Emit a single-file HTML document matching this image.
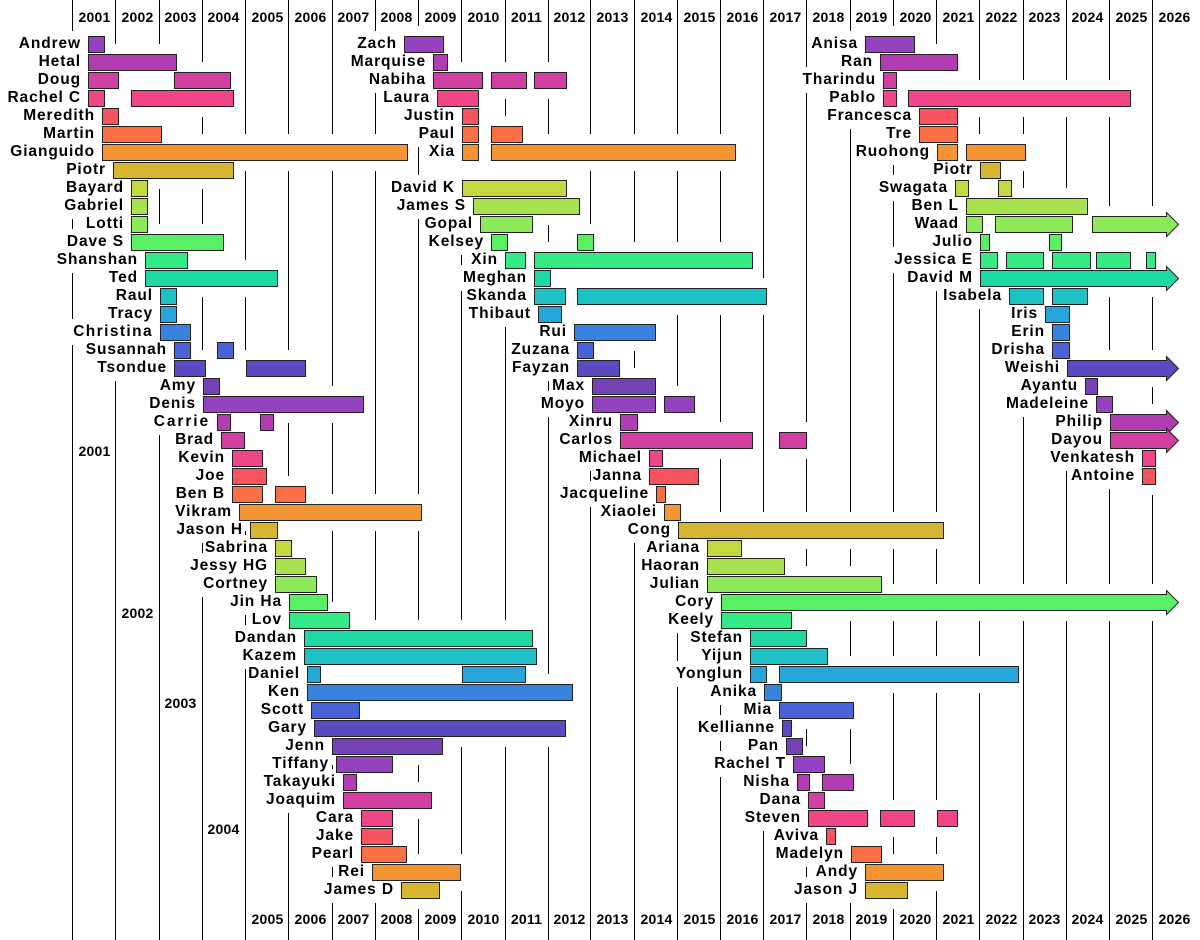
<!DOCTYPE html>
<html><head><meta charset="utf-8">
<style>
body{margin:0;background:#fff}
#c{position:relative;width:1200px;height:940px;overflow:hidden;background:#fff;font-family:"Liberation Sans",Arial,sans-serif;font-weight:bold;color:#000}
.ly{position:absolute;left:0;top:0;width:1200px;height:940px}
#L{z-index:1}#W{z-index:2}#C{z-index:3}
.l{position:absolute;top:0;width:1px;height:940px;background:#000}
.t,.tw{position:absolute;top:calc(var(--r)*18px + 31px);height:26px;line-height:26px;font-size:15.5px;letter-spacing:.9px;white-space:nowrap}
.t{right:calc(1207px - var(--x)*1px)}
.tw{right:calc(1205px - var(--x)*1px);padding:0 2px;color:transparent;background:#fff}
.b{position:absolute;top:calc(var(--r)*18px + 36px);height:17px;box-sizing:border-box;border:1px solid #222}
.bw{position:absolute;top:calc(var(--r)*18px + 26px);height:37px;margin-left:-2px;padding:0 2px;background:#fff}
.y{position:absolute;width:43px;text-align:center;font-size:14px;letter-spacing:.2px;height:26px;line-height:26px}
.k0{background:#9342c0}.k1{background:#b23db3}.k2{background:#d23fa2}.k3{background:#f04586}.k4{background:#f8545f}
.k5{background:#f87044}.k6{background:#f59433}.k7{background:#d8b530}.k8{background:#c4d940}.k9{background:#a8e34f}
.k10{background:#8dea58}.k11{background:#5af064}.k12{background:#34ea84}.k13{background:#1fd9a5}.k14{background:#1ec2c6}
.k15{background:#27a6dc}.k16{background:#3a82e0}.k17{background:#4a63d6}.k18{background:#5b4bc2}.k19{background:#7442b4}
</style></head><body><div id="c">

<div class="ly" id="L">
<div class="l" style="left:72px"></div><div class="l" style="left:115px"></div><div class="l" style="left:159px"></div><div class="l" style="left:202px"></div><div class="l" style="left:245px"></div><div class="l" style="left:288px"></div><div class="l" style="left:332px"></div><div class="l" style="left:375px"></div><div class="l" style="left:418px"></div><div class="l" style="left:461px"></div><div class="l" style="left:505px"></div><div class="l" style="left:548px"></div><div class="l" style="left:590px"></div><div class="l" style="left:634px"></div><div class="l" style="left:677px"></div><div class="l" style="left:720px"></div><div class="l" style="left:763px"></div><div class="l" style="left:806px"></div><div class="l" style="left:850px"></div><div class="l" style="left:893px"></div><div class="l" style="left:936px"></div><div class="l" style="left:979px"></div><div class="l" style="left:1023px"></div><div class="l" style="left:1066px"></div><div class="l" style="left:1109px"></div><div class="l" style="left:1152px"></div>
</div>

<div class="ly" id="W">
<div class="tw" style="--r:0;--x:88">Andrew</div><div class="tw" style="--r:1;--x:88">Hetal</div><div class="tw" style="--r:2;--x:88">Doug</div><div class="tw" style="--r:3;--x:88">Rachel C</div><div class="tw" style="--r:4;--x:102">Meredith</div><div class="tw" style="--r:5;--x:102">Martin</div><div class="tw" style="--r:6;--x:102">Gianguido</div><div class="tw" style="--r:7;--x:113">Piotr</div><div class="tw" style="--r:8;--x:131">Bayard</div><div class="tw" style="--r:9;--x:131">Gabriel</div><div class="tw" style="--r:10;--x:131">Lotti</div><div class="tw" style="--r:11;--x:131">Dave S</div><div class="tw" style="--r:12;--x:145">Shanshan</div><div class="tw" style="--r:13;--x:145">Ted</div><div class="tw" style="--r:14;--x:160">Raul</div><div class="tw" style="--r:15;--x:160">Tracy</div><div class="tw" style="--r:16;--x:160;letter-spacing:1.4px">Christina</div><div class="tw" style="--r:17;--x:174">Susannah</div><div class="tw" style="--r:18;--x:174">Tsondue</div><div class="tw" style="--r:19;--x:203">Amy</div><div class="tw" style="--r:20;--x:203">Denis</div><div class="tw" style="--r:21;--x:217;letter-spacing:1.9px">Carrie</div><div class="tw" style="--r:22;--x:221">Brad</div><div class="tw" style="--r:23;--x:232">Kevin</div><div class="tw" style="--r:24;--x:232">Joe</div><div class="tw" style="--r:25;--x:232">Ben B</div><div class="tw" style="--r:26;--x:239">Vikram</div><div class="tw" style="--r:27;--x:250">Jason H</div><div class="tw" style="--r:28;--x:275">Sabrina</div><div class="tw" style="--r:29;--x:275">Jessy HG</div><div class="tw" style="--r:30;--x:275">Cortney</div><div class="tw" style="--r:31;--x:289">Jin Ha</div><div class="tw" style="--r:32;--x:289">Lov</div><div class="tw" style="--r:33;--x:304">Dandan</div><div class="tw" style="--r:34;--x:304">Kazem</div><div class="tw" style="--r:35;--x:307">Daniel</div><div class="tw" style="--r:36;--x:307">Ken</div><div class="tw" style="--r:37;--x:311">Scott</div><div class="tw" style="--r:38;--x:314">Gary</div><div class="tw" style="--r:39;--x:332">Jenn</div><div class="tw" style="--r:40;--x:336">Tiffany</div><div class="tw" style="--r:41;--x:343">Takayuki</div><div class="tw" style="--r:42;--x:343">Joaquim</div><div class="tw" style="--r:43;--x:361">Cara</div><div class="tw" style="--r:44;--x:361">Jake</div><div class="tw" style="--r:45;--x:361">Pearl</div><div class="tw" style="--r:46;--x:372">Rei</div><div class="tw" style="--r:47;--x:401">James D</div>
<div class="tw" style="--r:0;--x:404">Zach</div><div class="tw" style="--r:1;--x:433">Marquise</div><div class="tw" style="--r:2;--x:433">Nabiha</div><div class="tw" style="--r:3;--x:437">Laura</div><div class="tw" style="--r:4;--x:462">Justin</div><div class="tw" style="--r:5;--x:462">Paul</div><div class="tw" style="--r:6;--x:462">Xia</div><div class="tw" style="--r:8;--x:462">David K</div><div class="tw" style="--r:9;--x:473">James S</div><div class="tw" style="--r:10;--x:480">Gopal</div><div class="tw" style="--r:11;--x:491">Kelsey</div><div class="tw" style="--r:12;--x:505">Xin</div><div class="tw" style="--r:13;--x:534">Meghan</div><div class="tw" style="--r:14;--x:534">Skanda</div><div class="tw" style="--r:15;--x:538">Thibaut</div><div class="tw" style="--r:16;--x:574">Rui</div><div class="tw" style="--r:17;--x:577">Zuzana</div><div class="tw" style="--r:18;--x:577">Fayzan</div><div class="tw" style="--r:19;--x:592">Max</div><div class="tw" style="--r:20;--x:592">Moyo</div><div class="tw" style="--r:21;--x:620">Xinru</div><div class="tw" style="--r:22;--x:620">Carlos</div><div class="tw" style="--r:23;--x:649">Michael</div><div class="tw" style="--r:24;--x:649">Janna</div><div class="tw" style="--r:25;--x:656">Jacqueline</div><div class="tw" style="--r:26;--x:664">Xiaolei</div><div class="tw" style="--r:27;--x:678">Cong</div><div class="tw" style="--r:28;--x:707">Ariana</div><div class="tw" style="--r:29;--x:707">Haoran</div><div class="tw" style="--r:30;--x:707">Julian</div><div class="tw" style="--r:31;--x:721">Cory</div><div class="tw" style="--r:32;--x:721">Keely</div><div class="tw" style="--r:33;--x:750">Stefan</div><div class="tw" style="--r:34;--x:750">Yijun</div><div class="tw" style="--r:35;--x:750">Yonglun</div><div class="tw" style="--r:36;--x:764">Anika</div><div class="tw" style="--r:37;--x:779">Mia</div><div class="tw" style="--r:38;--x:782">Kellianne</div><div class="tw" style="--r:39;--x:786">Pan</div><div class="tw" style="--r:40;--x:793">Rachel T</div><div class="tw" style="--r:41;--x:797">Nisha</div><div class="tw" style="--r:42;--x:808">Dana</div><div class="tw" style="--r:43;--x:808">Steven</div><div class="tw" style="--r:44;--x:826">Aviva</div><div class="tw" style="--r:45;--x:851">Madelyn</div><div class="tw" style="--r:46;--x:865">Andy</div><div class="tw" style="--r:47;--x:865">Jason J</div>
<div class="tw" style="--r:0;--x:865">Anisa</div><div class="tw" style="--r:1;--x:880">Ran</div><div class="tw" style="--r:2;--x:883">Tharindu</div><div class="tw" style="--r:3;--x:883">Pablo</div><div class="tw" style="--r:4;--x:919">Francesca</div><div class="tw" style="--r:5;--x:919">Tre</div><div class="tw" style="--r:6;--x:937">Ruohong</div><div class="tw" style="--r:7;--x:980">Piotr</div><div class="tw" style="--r:8;--x:955">Swagata</div><div class="tw" style="--r:9;--x:966">Ben L</div><div class="tw" style="--r:10;--x:966">Waad</div><div class="tw" style="--r:11;--x:980">Julio</div><div class="tw" style="--r:12;--x:980">Jessica E</div><div class="tw" style="--r:13;--x:980">David M</div><div class="tw" style="--r:14;--x:1009">Isabela</div><div class="tw" style="--r:15;--x:1045">Iris</div><div class="tw" style="--r:16;--x:1052">Erin</div><div class="tw" style="--r:17;--x:1052">Drisha</div><div class="tw" style="--r:18;--x:1067">Weishi</div><div class="tw" style="--r:19;--x:1085">Ayantu</div><div class="tw" style="--r:20;--x:1096">Madeleine</div><div class="tw" style="--r:21;--x:1110">Philip</div><div class="tw" style="--r:22;--x:1110">Dayou</div><div class="tw" style="--r:23;--x:1142">Venkatesh</div><div class="tw" style="--r:24;--x:1142">Antoine</div>

<div class="bw" style="--r:0;left:88px;width:17px"></div><div class="bw" style="--r:1;left:88px;width:89px"></div><div class="bw" style="--r:2;left:88px;width:31px"></div><div class="bw" style="--r:2;left:174px;width:57px"></div><div class="bw" style="--r:3;left:88px;width:17px"></div><div class="bw" style="--r:3;left:131px;width:103px"></div><div class="bw" style="--r:4;left:102px;width:17px"></div><div class="bw" style="--r:5;left:102px;width:60px"></div><div class="bw" style="--r:6;left:102px;width:306px"></div><div class="bw" style="--r:7;left:113px;width:121px"></div><div class="bw" style="--r:8;left:131px;width:17px"></div><div class="bw" style="--r:9;left:131px;width:17px"></div><div class="bw" style="--r:10;left:131px;width:17px"></div><div class="bw" style="--r:11;left:131px;width:93px"></div><div class="bw" style="--r:12;left:145px;width:43px"></div><div class="bw" style="--r:13;left:145px;width:133px"></div><div class="bw" style="--r:14;left:160px;width:17px"></div><div class="bw" style="--r:15;left:160px;width:17px"></div><div class="bw" style="--r:16;left:160px;width:31px"></div><div class="bw" style="--r:17;left:174px;width:17px"></div><div class="bw" style="--r:17;left:217px;width:17px"></div><div class="bw" style="--r:18;left:174px;width:32px"></div><div class="bw" style="--r:18;left:246px;width:60px"></div><div class="bw" style="--r:19;left:203px;width:17px"></div><div class="bw" style="--r:20;left:203px;width:161px"></div><div class="bw" style="--r:21;left:217px;width:14px"></div><div class="bw" style="--r:21;left:260px;width:14px"></div><div class="bw" style="--r:22;left:221px;width:24px"></div><div class="bw" style="--r:23;left:232px;width:31px"></div><div class="bw" style="--r:24;left:232px;width:35px"></div><div class="bw" style="--r:25;left:232px;width:31px"></div><div class="bw" style="--r:25;left:275px;width:31px"></div><div class="bw" style="--r:26;left:239px;width:183px"></div><div class="bw" style="--r:27;left:250px;width:28px"></div><div class="bw" style="--r:28;left:275px;width:17px"></div><div class="bw" style="--r:29;left:275px;width:31px"></div><div class="bw" style="--r:30;left:275px;width:42px"></div><div class="bw" style="--r:31;left:289px;width:39px"></div><div class="bw" style="--r:32;left:289px;width:61px"></div><div class="bw" style="--r:33;left:304px;width:229px"></div><div class="bw" style="--r:34;left:304px;width:233px"></div><div class="bw" style="--r:35;left:307px;width:14px"></div><div class="bw" style="--r:35;left:462px;width:64px"></div><div class="bw" style="--r:36;left:307px;width:266px"></div><div class="bw" style="--r:37;left:311px;width:49px"></div><div class="bw" style="--r:38;left:314px;width:252px"></div><div class="bw" style="--r:39;left:332px;width:111px"></div><div class="bw" style="--r:40;left:336px;width:57px"></div><div class="bw" style="--r:41;left:343px;width:14px"></div><div class="bw" style="--r:42;left:343px;width:89px"></div><div class="bw" style="--r:43;left:361px;width:32px"></div><div class="bw" style="--r:44;left:361px;width:32px"></div><div class="bw" style="--r:45;left:361px;width:46px"></div><div class="bw" style="--r:46;left:372px;width:89px"></div><div class="bw" style="--r:47;left:401px;width:39px"></div>
<div class="bw" style="--r:0;left:404px;width:40px"></div><div class="bw" style="--r:1;left:433px;width:15px"></div><div class="bw" style="--r:2;left:433px;width:50px"></div><div class="bw" style="--r:2;left:491px;width:36px"></div><div class="bw" style="--r:2;left:534px;width:33px"></div><div class="bw" style="--r:3;left:437px;width:42px"></div><div class="bw" style="--r:4;left:462px;width:17px"></div><div class="bw" style="--r:5;left:462px;width:17px"></div><div class="bw" style="--r:5;left:491px;width:32px"></div><div class="bw" style="--r:6;left:462px;width:17px"></div><div class="bw" style="--r:6;left:491px;width:245px"></div><div class="bw" style="--r:8;left:462px;width:105px"></div><div class="bw" style="--r:9;left:473px;width:107px"></div><div class="bw" style="--r:10;left:480px;width:53px"></div><div class="bw" style="--r:11;left:491px;width:17px"></div><div class="bw" style="--r:11;left:577px;width:17px"></div><div class="bw" style="--r:12;left:505px;width:21px"></div><div class="bw" style="--r:12;left:534px;width:219px"></div><div class="bw" style="--r:13;left:534px;width:17px"></div><div class="bw" style="--r:14;left:534px;width:32px"></div><div class="bw" style="--r:14;left:577px;width:190px"></div><div class="bw" style="--r:15;left:538px;width:24px"></div><div class="bw" style="--r:16;left:574px;width:82px"></div><div class="bw" style="--r:17;left:577px;width:17px"></div><div class="bw" style="--r:18;left:577px;width:43px"></div><div class="bw" style="--r:19;left:592px;width:64px"></div><div class="bw" style="--r:20;left:592px;width:64px"></div><div class="bw" style="--r:20;left:664px;width:31px"></div><div class="bw" style="--r:21;left:620px;width:18px"></div><div class="bw" style="--r:22;left:620px;width:133px"></div><div class="bw" style="--r:22;left:779px;width:28px"></div><div class="bw" style="--r:23;left:649px;width:14px"></div><div class="bw" style="--r:24;left:649px;width:50px"></div><div class="bw" style="--r:25;left:656px;width:10px"></div><div class="bw" style="--r:26;left:664px;width:17px"></div><div class="bw" style="--r:27;left:678px;width:266px"></div><div class="bw" style="--r:28;left:707px;width:35px"></div><div class="bw" style="--r:29;left:707px;width:78px"></div><div class="bw" style="--r:30;left:707px;width:175px"></div><div class="bw" style="--r:31;left:721px;width:459px"></div><div class="bw" style="--r:32;left:721px;width:71px"></div><div class="bw" style="--r:33;left:750px;width:57px"></div><div class="bw" style="--r:34;left:750px;width:78px"></div><div class="bw" style="--r:35;left:750px;width:17px"></div><div class="bw" style="--r:35;left:779px;width:240px"></div><div class="bw" style="--r:36;left:764px;width:18px"></div><div class="bw" style="--r:37;left:779px;width:75px"></div><div class="bw" style="--r:38;left:782px;width:10px"></div><div class="bw" style="--r:39;left:786px;width:17px"></div><div class="bw" style="--r:40;left:793px;width:32px"></div><div class="bw" style="--r:41;left:797px;width:13px"></div><div class="bw" style="--r:41;left:822px;width:32px"></div><div class="bw" style="--r:42;left:808px;width:17px"></div><div class="bw" style="--r:43;left:808px;width:60px"></div><div class="bw" style="--r:43;left:880px;width:35px"></div><div class="bw" style="--r:43;left:937px;width:21px"></div><div class="bw" style="--r:44;left:826px;width:10px"></div><div class="bw" style="--r:45;left:851px;width:31px"></div><div class="bw" style="--r:46;left:865px;width:79px"></div><div class="bw" style="--r:47;left:865px;width:43px"></div>
<div class="bw" style="--r:0;left:865px;width:50px"></div><div class="bw" style="--r:1;left:880px;width:78px"></div><div class="bw" style="--r:2;left:883px;width:14px"></div><div class="bw" style="--r:3;left:883px;width:14px"></div><div class="bw" style="--r:3;left:908px;width:223px"></div><div class="bw" style="--r:4;left:919px;width:39px"></div><div class="bw" style="--r:5;left:919px;width:39px"></div><div class="bw" style="--r:6;left:937px;width:21px"></div><div class="bw" style="--r:6;left:966px;width:60px"></div><div class="bw" style="--r:7;left:980px;width:21px"></div><div class="bw" style="--r:8;left:955px;width:14px"></div><div class="bw" style="--r:8;left:998px;width:14px"></div><div class="bw" style="--r:9;left:966px;width:122px"></div><div class="bw" style="--r:10;left:966px;width:17px"></div><div class="bw" style="--r:10;left:995px;width:78px"></div><div class="bw" style="--r:10;left:1092px;width:88px"></div><div class="bw" style="--r:11;left:980px;width:10px"></div><div class="bw" style="--r:11;left:1049px;width:13px"></div><div class="bw" style="--r:12;left:980px;width:18px"></div><div class="bw" style="--r:12;left:1006px;width:38px"></div><div class="bw" style="--r:12;left:1052px;width:39px"></div><div class="bw" style="--r:12;left:1096px;width:35px"></div><div class="bw" style="--r:12;left:1146px;width:10px"></div><div class="bw" style="--r:13;left:980px;width:200px"></div><div class="bw" style="--r:14;left:1009px;width:35px"></div><div class="bw" style="--r:14;left:1052px;width:36px"></div><div class="bw" style="--r:15;left:1045px;width:25px"></div><div class="bw" style="--r:16;left:1052px;width:18px"></div><div class="bw" style="--r:17;left:1052px;width:18px"></div><div class="bw" style="--r:18;left:1067px;width:113px"></div><div class="bw" style="--r:19;left:1085px;width:13px"></div><div class="bw" style="--r:20;left:1096px;width:17px"></div><div class="bw" style="--r:21;left:1110px;width:70px"></div><div class="bw" style="--r:22;left:1110px;width:70px"></div><div class="bw" style="--r:23;left:1142px;width:14px"></div><div class="bw" style="--r:24;left:1142px;width:14px"></div>
</div>

<div class="ly" id="C">
<div class="y" style="left:73px;top:4px">2001</div><div class="y" style="left:116px;top:4px">2002</div><div class="y" style="left:159px;top:4px">2003</div><div class="y" style="left:202px;top:4px">2004</div><div class="y" style="left:246px;top:4px">2005</div><div class="y" style="left:289px;top:4px">2006</div><div class="y" style="left:332px;top:4px">2007</div><div class="y" style="left:375px;top:4px">2008</div><div class="y" style="left:419px;top:4px">2009</div><div class="y" style="left:462px;top:4px">2010</div><div class="y" style="left:505px;top:4px">2011</div><div class="y" style="left:548px;top:4px">2012</div><div class="y" style="left:591px;top:4px">2013</div><div class="y" style="left:635px;top:4px">2014</div><div class="y" style="left:678px;top:4px">2015</div><div class="y" style="left:721px;top:4px">2016</div><div class="y" style="left:764px;top:4px">2017</div><div class="y" style="left:807px;top:4px">2018</div><div class="y" style="left:850px;top:4px">2019</div><div class="y" style="left:894px;top:4px">2020</div><div class="y" style="left:937px;top:4px">2021</div><div class="y" style="left:980px;top:4px">2022</div><div class="y" style="left:1023px;top:4px">2023</div><div class="y" style="left:1066px;top:4px">2024</div><div class="y" style="left:1110px;top:4px">2025</div><div class="y" style="left:1153px;top:4px">2026</div>
<div class="y" style="left:73px;top:438px">2001</div><div class="y" style="left:116px;top:600px">2002</div><div class="y" style="left:159px;top:690px">2003</div><div class="y" style="left:202px;top:816px">2004</div>
<div class="y" style="left:246px;top:906px">2005</div><div class="y" style="left:289px;top:906px">2006</div><div class="y" style="left:332px;top:906px">2007</div><div class="y" style="left:375px;top:906px">2008</div><div class="y" style="left:419px;top:906px">2009</div><div class="y" style="left:462px;top:906px">2010</div><div class="y" style="left:505px;top:906px">2011</div><div class="y" style="left:548px;top:906px">2012</div><div class="y" style="left:591px;top:906px">2013</div><div class="y" style="left:635px;top:906px">2014</div><div class="y" style="left:678px;top:906px">2015</div><div class="y" style="left:721px;top:906px">2016</div><div class="y" style="left:764px;top:906px">2017</div><div class="y" style="left:807px;top:906px">2018</div><div class="y" style="left:850px;top:906px">2019</div><div class="y" style="left:894px;top:906px">2020</div><div class="y" style="left:937px;top:906px">2021</div><div class="y" style="left:980px;top:906px">2022</div><div class="y" style="left:1023px;top:906px">2023</div><div class="y" style="left:1066px;top:906px">2024</div><div class="y" style="left:1110px;top:906px">2025</div><div class="y" style="left:1153px;top:906px">2026</div>

<div class="t" style="--r:0;--x:88">Andrew</div><div class="t" style="--r:1;--x:88">Hetal</div><div class="t" style="--r:2;--x:88">Doug</div><div class="t" style="--r:3;--x:88">Rachel C</div><div class="t" style="--r:4;--x:102">Meredith</div><div class="t" style="--r:5;--x:102">Martin</div><div class="t" style="--r:6;--x:102">Gianguido</div><div class="t" style="--r:7;--x:113">Piotr</div><div class="t" style="--r:8;--x:131">Bayard</div><div class="t" style="--r:9;--x:131">Gabriel</div><div class="t" style="--r:10;--x:131">Lotti</div><div class="t" style="--r:11;--x:131">Dave S</div><div class="t" style="--r:12;--x:145">Shanshan</div><div class="t" style="--r:13;--x:145">Ted</div><div class="t" style="--r:14;--x:160">Raul</div><div class="t" style="--r:15;--x:160">Tracy</div><div class="t" style="--r:16;--x:160;letter-spacing:1.4px">Christina</div><div class="t" style="--r:17;--x:174">Susannah</div><div class="t" style="--r:18;--x:174">Tsondue</div><div class="t" style="--r:19;--x:203">Amy</div><div class="t" style="--r:20;--x:203">Denis</div><div class="t" style="--r:21;--x:217;letter-spacing:1.9px">Carrie</div><div class="t" style="--r:22;--x:221">Brad</div><div class="t" style="--r:23;--x:232">Kevin</div><div class="t" style="--r:24;--x:232">Joe</div><div class="t" style="--r:25;--x:232">Ben B</div><div class="t" style="--r:26;--x:239">Vikram</div><div class="t" style="--r:27;--x:250">Jason H</div><div class="t" style="--r:28;--x:275">Sabrina</div><div class="t" style="--r:29;--x:275">Jessy HG</div><div class="t" style="--r:30;--x:275">Cortney</div><div class="t" style="--r:31;--x:289">Jin Ha</div><div class="t" style="--r:32;--x:289">Lov</div><div class="t" style="--r:33;--x:304">Dandan</div><div class="t" style="--r:34;--x:304">Kazem</div><div class="t" style="--r:35;--x:307">Daniel</div><div class="t" style="--r:36;--x:307">Ken</div><div class="t" style="--r:37;--x:311">Scott</div><div class="t" style="--r:38;--x:314">Gary</div><div class="t" style="--r:39;--x:332">Jenn</div><div class="t" style="--r:40;--x:336">Tiffany</div><div class="t" style="--r:41;--x:343">Takayuki</div><div class="t" style="--r:42;--x:343">Joaquim</div><div class="t" style="--r:43;--x:361">Cara</div><div class="t" style="--r:44;--x:361">Jake</div><div class="t" style="--r:45;--x:361">Pearl</div><div class="t" style="--r:46;--x:372">Rei</div><div class="t" style="--r:47;--x:401">James D</div>
<div class="t" style="--r:0;--x:404">Zach</div><div class="t" style="--r:1;--x:433">Marquise</div><div class="t" style="--r:2;--x:433">Nabiha</div><div class="t" style="--r:3;--x:437">Laura</div><div class="t" style="--r:4;--x:462">Justin</div><div class="t" style="--r:5;--x:462">Paul</div><div class="t" style="--r:6;--x:462">Xia</div><div class="t" style="--r:8;--x:462">David K</div><div class="t" style="--r:9;--x:473">James S</div><div class="t" style="--r:10;--x:480">Gopal</div><div class="t" style="--r:11;--x:491">Kelsey</div><div class="t" style="--r:12;--x:505">Xin</div><div class="t" style="--r:13;--x:534">Meghan</div><div class="t" style="--r:14;--x:534">Skanda</div><div class="t" style="--r:15;--x:538">Thibaut</div><div class="t" style="--r:16;--x:574">Rui</div><div class="t" style="--r:17;--x:577">Zuzana</div><div class="t" style="--r:18;--x:577">Fayzan</div><div class="t" style="--r:19;--x:592">Max</div><div class="t" style="--r:20;--x:592">Moyo</div><div class="t" style="--r:21;--x:620">Xinru</div><div class="t" style="--r:22;--x:620">Carlos</div><div class="t" style="--r:23;--x:649">Michael</div><div class="t" style="--r:24;--x:649">Janna</div><div class="t" style="--r:25;--x:656">Jacqueline</div><div class="t" style="--r:26;--x:664">Xiaolei</div><div class="t" style="--r:27;--x:678">Cong</div><div class="t" style="--r:28;--x:707">Ariana</div><div class="t" style="--r:29;--x:707">Haoran</div><div class="t" style="--r:30;--x:707">Julian</div><div class="t" style="--r:31;--x:721">Cory</div><div class="t" style="--r:32;--x:721">Keely</div><div class="t" style="--r:33;--x:750">Stefan</div><div class="t" style="--r:34;--x:750">Yijun</div><div class="t" style="--r:35;--x:750">Yonglun</div><div class="t" style="--r:36;--x:764">Anika</div><div class="t" style="--r:37;--x:779">Mia</div><div class="t" style="--r:38;--x:782">Kellianne</div><div class="t" style="--r:39;--x:786">Pan</div><div class="t" style="--r:40;--x:793">Rachel T</div><div class="t" style="--r:41;--x:797">Nisha</div><div class="t" style="--r:42;--x:808">Dana</div><div class="t" style="--r:43;--x:808">Steven</div><div class="t" style="--r:44;--x:826">Aviva</div><div class="t" style="--r:45;--x:851">Madelyn</div><div class="t" style="--r:46;--x:865">Andy</div><div class="t" style="--r:47;--x:865">Jason J</div>
<div class="t" style="--r:0;--x:865">Anisa</div><div class="t" style="--r:1;--x:880">Ran</div><div class="t" style="--r:2;--x:883">Tharindu</div><div class="t" style="--r:3;--x:883">Pablo</div><div class="t" style="--r:4;--x:919">Francesca</div><div class="t" style="--r:5;--x:919">Tre</div><div class="t" style="--r:6;--x:937">Ruohong</div><div class="t" style="--r:7;--x:980">Piotr</div><div class="t" style="--r:8;--x:955">Swagata</div><div class="t" style="--r:9;--x:966">Ben L</div><div class="t" style="--r:10;--x:966">Waad</div><div class="t" style="--r:11;--x:980">Julio</div><div class="t" style="--r:12;--x:980">Jessica E</div><div class="t" style="--r:13;--x:980">David M</div><div class="t" style="--r:14;--x:1009">Isabela</div><div class="t" style="--r:15;--x:1045">Iris</div><div class="t" style="--r:16;--x:1052">Erin</div><div class="t" style="--r:17;--x:1052">Drisha</div><div class="t" style="--r:18;--x:1067">Weishi</div><div class="t" style="--r:19;--x:1085">Ayantu</div><div class="t" style="--r:20;--x:1096">Madeleine</div><div class="t" style="--r:21;--x:1110">Philip</div><div class="t" style="--r:22;--x:1110">Dayou</div><div class="t" style="--r:23;--x:1142">Venkatesh</div><div class="t" style="--r:24;--x:1142">Antoine</div>

<div class="b k0" style="--r:0;left:88px;width:17px"></div><div class="b k1" style="--r:1;left:88px;width:89px"></div><div class="b k2" style="--r:2;left:88px;width:31px"></div><div class="b k2" style="--r:2;left:174px;width:57px"></div><div class="b k3" style="--r:3;left:88px;width:17px"></div><div class="b k3" style="--r:3;left:131px;width:103px"></div><div class="b k4" style="--r:4;left:102px;width:17px"></div><div class="b k5" style="--r:5;left:102px;width:60px"></div><div class="b k6" style="--r:6;left:102px;width:306px"></div><div class="b k7" style="--r:7;left:113px;width:121px"></div><div class="b k8" style="--r:8;left:131px;width:17px"></div><div class="b k9" style="--r:9;left:131px;width:17px"></div><div class="b k10" style="--r:10;left:131px;width:17px"></div><div class="b k11" style="--r:11;left:131px;width:93px"></div><div class="b k12" style="--r:12;left:145px;width:43px"></div><div class="b k13" style="--r:13;left:145px;width:133px"></div><div class="b k14" style="--r:14;left:160px;width:17px"></div><div class="b k15" style="--r:15;left:160px;width:17px"></div><div class="b k16" style="--r:16;left:160px;width:31px"></div><div class="b k17" style="--r:17;left:174px;width:17px"></div><div class="b k17" style="--r:17;left:217px;width:17px"></div><div class="b k18" style="--r:18;left:174px;width:32px"></div><div class="b k18" style="--r:18;left:246px;width:60px"></div><div class="b k19" style="--r:19;left:203px;width:17px"></div><div class="b k0" style="--r:20;left:203px;width:161px"></div><div class="b k1" style="--r:21;left:217px;width:14px"></div><div class="b k1" style="--r:21;left:260px;width:14px"></div><div class="b k2" style="--r:22;left:221px;width:24px"></div><div class="b k3" style="--r:23;left:232px;width:31px"></div><div class="b k4" style="--r:24;left:232px;width:35px"></div><div class="b k5" style="--r:25;left:232px;width:31px"></div><div class="b k5" style="--r:25;left:275px;width:31px"></div><div class="b k6" style="--r:26;left:239px;width:183px"></div><div class="b k7" style="--r:27;left:250px;width:28px"></div><div class="b k8" style="--r:28;left:275px;width:17px"></div><div class="b k9" style="--r:29;left:275px;width:31px"></div><div class="b k10" style="--r:30;left:275px;width:42px"></div><div class="b k11" style="--r:31;left:289px;width:39px"></div><div class="b k12" style="--r:32;left:289px;width:61px"></div><div class="b k13" style="--r:33;left:304px;width:229px"></div><div class="b k14" style="--r:34;left:304px;width:233px"></div><div class="b k15" style="--r:35;left:307px;width:14px"></div><div class="b k15" style="--r:35;left:462px;width:64px"></div><div class="b k16" style="--r:36;left:307px;width:266px"></div><div class="b k17" style="--r:37;left:311px;width:49px"></div><div class="b k18" style="--r:38;left:314px;width:252px"></div><div class="b k19" style="--r:39;left:332px;width:111px"></div><div class="b k0" style="--r:40;left:336px;width:57px"></div><div class="b k1" style="--r:41;left:343px;width:14px"></div><div class="b k2" style="--r:42;left:343px;width:89px"></div><div class="b k3" style="--r:43;left:361px;width:32px"></div><div class="b k4" style="--r:44;left:361px;width:32px"></div><div class="b k5" style="--r:45;left:361px;width:46px"></div><div class="b k6" style="--r:46;left:372px;width:89px"></div><div class="b k7" style="--r:47;left:401px;width:39px"></div>
<div class="b k0" style="--r:0;left:404px;width:40px"></div><div class="b k1" style="--r:1;left:433px;width:15px"></div><div class="b k2" style="--r:2;left:433px;width:50px"></div><div class="b k2" style="--r:2;left:491px;width:36px"></div><div class="b k2" style="--r:2;left:534px;width:33px"></div><div class="b k3" style="--r:3;left:437px;width:42px"></div><div class="b k4" style="--r:4;left:462px;width:17px"></div><div class="b k5" style="--r:5;left:462px;width:17px"></div><div class="b k5" style="--r:5;left:491px;width:32px"></div><div class="b k6" style="--r:6;left:462px;width:17px"></div><div class="b k6" style="--r:6;left:491px;width:245px"></div><div class="b k8" style="--r:8;left:462px;width:105px"></div><div class="b k9" style="--r:9;left:473px;width:107px"></div><div class="b k10" style="--r:10;left:480px;width:53px"></div><div class="b k11" style="--r:11;left:491px;width:17px"></div><div class="b k11" style="--r:11;left:577px;width:17px"></div><div class="b k12" style="--r:12;left:505px;width:21px"></div><div class="b k12" style="--r:12;left:534px;width:219px"></div><div class="b k13" style="--r:13;left:534px;width:17px"></div><div class="b k14" style="--r:14;left:534px;width:32px"></div><div class="b k14" style="--r:14;left:577px;width:190px"></div><div class="b k15" style="--r:15;left:538px;width:24px"></div><div class="b k16" style="--r:16;left:574px;width:82px"></div><div class="b k17" style="--r:17;left:577px;width:17px"></div><div class="b k18" style="--r:18;left:577px;width:43px"></div><div class="b k19" style="--r:19;left:592px;width:64px"></div><div class="b k0" style="--r:20;left:592px;width:64px"></div><div class="b k0" style="--r:20;left:664px;width:31px"></div><div class="b k1" style="--r:21;left:620px;width:18px"></div><div class="b k2" style="--r:22;left:620px;width:133px"></div><div class="b k2" style="--r:22;left:779px;width:28px"></div><div class="b k3" style="--r:23;left:649px;width:14px"></div><div class="b k4" style="--r:24;left:649px;width:50px"></div><div class="b k5" style="--r:25;left:656px;width:10px"></div><div class="b k6" style="--r:26;left:664px;width:17px"></div><div class="b k7" style="--r:27;left:678px;width:266px"></div><div class="b k8" style="--r:28;left:707px;width:35px"></div><div class="b k9" style="--r:29;left:707px;width:78px"></div><div class="b k10" style="--r:30;left:707px;width:175px"></div><div class="b k12" style="--r:32;left:721px;width:71px"></div><div class="b k13" style="--r:33;left:750px;width:57px"></div><div class="b k14" style="--r:34;left:750px;width:78px"></div><div class="b k15" style="--r:35;left:750px;width:17px"></div><div class="b k15" style="--r:35;left:779px;width:240px"></div><div class="b k16" style="--r:36;left:764px;width:18px"></div><div class="b k17" style="--r:37;left:779px;width:75px"></div><div class="b k18" style="--r:38;left:782px;width:10px"></div><div class="b k19" style="--r:39;left:786px;width:17px"></div><div class="b k0" style="--r:40;left:793px;width:32px"></div><div class="b k1" style="--r:41;left:797px;width:13px"></div><div class="b k1" style="--r:41;left:822px;width:32px"></div><div class="b k2" style="--r:42;left:808px;width:17px"></div><div class="b k3" style="--r:43;left:808px;width:60px"></div><div class="b k3" style="--r:43;left:880px;width:35px"></div><div class="b k3" style="--r:43;left:937px;width:21px"></div><div class="b k4" style="--r:44;left:826px;width:10px"></div><div class="b k5" style="--r:45;left:851px;width:31px"></div><div class="b k6" style="--r:46;left:865px;width:79px"></div><div class="b k7" style="--r:47;left:865px;width:43px"></div>
<div class="b k0" style="--r:0;left:865px;width:50px"></div><div class="b k1" style="--r:1;left:880px;width:78px"></div><div class="b k2" style="--r:2;left:883px;width:14px"></div><div class="b k3" style="--r:3;left:883px;width:14px"></div><div class="b k3" style="--r:3;left:908px;width:223px"></div><div class="b k4" style="--r:4;left:919px;width:39px"></div><div class="b k5" style="--r:5;left:919px;width:39px"></div><div class="b k6" style="--r:6;left:937px;width:21px"></div><div class="b k6" style="--r:6;left:966px;width:60px"></div><div class="b k7" style="--r:7;left:980px;width:21px"></div><div class="b k8" style="--r:8;left:955px;width:14px"></div><div class="b k8" style="--r:8;left:998px;width:14px"></div><div class="b k9" style="--r:9;left:966px;width:122px"></div><div class="b k10" style="--r:10;left:966px;width:17px"></div><div class="b k10" style="--r:10;left:995px;width:78px"></div><div class="b k11" style="--r:11;left:980px;width:10px"></div><div class="b k11" style="--r:11;left:1049px;width:13px"></div><div class="b k12" style="--r:12;left:980px;width:18px"></div><div class="b k12" style="--r:12;left:1006px;width:38px"></div><div class="b k12" style="--r:12;left:1052px;width:39px"></div><div class="b k12" style="--r:12;left:1096px;width:35px"></div><div class="b k12" style="--r:12;left:1146px;width:10px"></div><div class="b k14" style="--r:14;left:1009px;width:35px"></div><div class="b k14" style="--r:14;left:1052px;width:36px"></div><div class="b k15" style="--r:15;left:1045px;width:25px"></div><div class="b k16" style="--r:16;left:1052px;width:18px"></div><div class="b k17" style="--r:17;left:1052px;width:18px"></div><div class="b k19" style="--r:19;left:1085px;width:13px"></div><div class="b k0" style="--r:20;left:1096px;width:17px"></div><div class="b k3" style="--r:23;left:1142px;width:14px"></div><div class="b k4" style="--r:24;left:1142px;width:14px"></div>

<svg width="1200" height="940" style="position:absolute;left:0;top:0" xmlns="http://www.w3.org/2000/svg">
<g stroke="#222" stroke-width="1">
<polygon fill="#5af064" points="721.5,594.5 1166.5,594.5 1166.5,590.5 1178.5,602.5 1166.5,614.5 1166.5,610.5 721.5,610.5"/>
<polygon fill="#8dea58" points="1092.5,216.5 1166.5,216.5 1166.5,212.5 1178.5,224.5 1166.5,236.5 1166.5,232.5 1092.5,232.5"/>
<polygon fill="#1fd9a5" points="980.5,270.5 1166.5,270.5 1166.5,266.5 1178.5,278.5 1166.5,290.5 1166.5,286.5 980.5,286.5"/>
<polygon fill="#5b4bc2" points="1067.5,360.5 1166.5,360.5 1166.5,356.5 1178.5,368.5 1166.5,380.5 1166.5,376.5 1067.5,376.5"/>
<polygon fill="#b23db3" points="1110.5,414.5 1166.5,414.5 1166.5,410.5 1178.5,422.5 1166.5,434.5 1166.5,430.5 1110.5,430.5"/>
<polygon fill="#d23fa2" points="1110.5,432.5 1166.5,432.5 1166.5,428.5 1178.5,440.5 1166.5,452.5 1166.5,448.5 1110.5,448.5"/>
</g>
</svg>
</div>

</div></body></html>
